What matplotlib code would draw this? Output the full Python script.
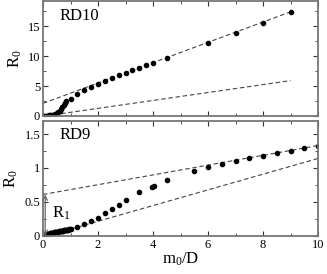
import matplotlib
matplotlib.use('Agg')
import matplotlib.pyplot as plt
from matplotlib.ticker import MultipleLocator

plt.rcParams['font.family'] = ['Liberation Serif', 'DejaVu Serif']
plt.rcParams['mathtext.fontset'] = 'custom'
plt.rcParams['mathtext.rm'] = 'Liberation Serif'
plt.rcParams['mathtext.it'] = 'Liberation Serif'

# RD10 (top panel)
m_rd10 = [0, 0.05, 0.1, 0.15, 0.2, 0.25, 0.3, 0.35, 0.4, 0.45, 0.5,
          0.55, 0.6, 0.65, 0.7, 0.75, 0.8, 0.85, 1.0, 1.25, 1.5, 1.75,
          2.0, 2.25, 2.5, 2.75, 3.0, 3.25, 3.5, 3.75, 4.0, 4.5, 6, 7, 8, 9]
r_rd10 = [0, 0.02, 0.04, 0.06, 0.08, 0.1, 0.13, 0.17, 0.22, 0.3, 0.42,
          0.65, 0.9, 1.2, 1.55, 1.9, 2.2, 2.45, 2.9, 3.65, 4.3, 4.85,
          5.4, 5.9, 6.3, 6.8, 7.2, 7.6, 8.0, 8.45, 8.9, 9.7, 12.2, 13.9, 15.6, 17.4]
fit_up_rd10_x = [0, 9]
fit_up_rd10_y = [2.1, 17.4]
fit_lo_rd10_x = [0.4, 9]
fit_lo_rd10_y = [0.2, 5.9]

# RD9 (bottom panel)
m_rd9 = [0, 0.025, 0.05, 0.075, 0.1, 0.125, 0.15, 0.175, 0.2, 0.225, 0.25,
         0.275, 0.3, 0.325, 0.35, 0.375, 0.4, 0.425, 0.45, 0.475, 0.5,
         0.525, 0.55, 0.575, 0.6, 0.625, 0.65, 0.675, 0.7, 0.725, 0.75,
         0.775, 0.8, 0.825, 0.85, 0.875, 0.9, 0.925, 0.95, 0.975, 1.0,
         1.25, 1.5, 1.75, 2.0, 2.25, 2.5, 2.75, 3.0, 3.5, 3.95, 4.05, 4.5,
         5.5, 6.0, 6.5, 7.0, 7.5, 8.0, 8.5, 9.0, 9.5, 10.0]
r_rd9 = [0, 0.006, 0.01, 0.014, 0.018, 0.021, 0.025, 0.028, 0.031, 0.034, 0.037,
         0.04, 0.042, 0.045, 0.047, 0.05, 0.052, 0.054, 0.056, 0.058, 0.06,
         0.062, 0.064, 0.066, 0.068, 0.07, 0.072, 0.074, 0.076, 0.078, 0.08,
         0.082, 0.084, 0.086, 0.088, 0.09, 0.092, 0.094, 0.096, 0.098, 0.1,
         0.13, 0.175, 0.225, 0.265, 0.33, 0.39, 0.455, 0.525, 0.64, 0.725, 0.735, 0.82,
         0.96, 1.02, 1.06, 1.10, 1.15, 1.18, 1.22, 1.255, 1.29, 1.33]
fit_up_rd9_x = [0, 10]
fit_up_rd9_y = [0.61, 1.33]
fit_lo_rd9_x = [1.0, 10]
fit_lo_rd9_y = [0.1, 1.14]
r1_value = 0.61

fig = plt.figure(figsize=(3.27, 2.74), dpi=100)
ax1 = fig.add_axes([0.1315, 0.577, 0.841, 0.419])
ax2 = fig.add_axes([0.1315, 0.139, 0.841, 0.419])

dash = dict(color='#444444', lw=0.8, ls=(0, (4, 2.5)))
mk = dict(ls='none', marker='o', ms=3.0, color='black', mec='black')

ax1.plot(fit_up_rd10_x, fit_up_rd10_y, **dash)
ax1.plot(fit_lo_rd10_x, fit_lo_rd10_y, **dash)
ax1.plot(m_rd10, r_rd10, **mk)
ax1.set_xlim(0, 10)
ax1.set_ylim(0, 19.2)
ax1.yaxis.set_major_locator(MultipleLocator(5))
ax1.yaxis.set_minor_locator(MultipleLocator(2.5))
ax1.xaxis.set_major_locator(MultipleLocator(2))
ax1.xaxis.set_minor_locator(MultipleLocator(1))
ax1.set_xticklabels([])
ax1.set_ylabel(r'R$_0$', fontsize=12, labelpad=3)
ax1.text(0.6, 16.0, 'RD10', fontsize=12)

ax2.plot(fit_up_rd9_x, fit_up_rd9_y, **dash)
ax2.plot(fit_lo_rd9_x, fit_lo_rd9_y, **dash)
ax2.plot(m_rd9, r_rd9, **mk)
ax2.annotate('', xy=(0.08, r1_value), xytext=(0.08, 0.0),
             arrowprops=dict(arrowstyle='<->', color='#666666', lw=0.9,
                             shrinkA=0, shrinkB=0, mutation_scale=8))
ax2.text(0.32, 0.27, r'R$_1$', fontsize=12)
ax2.set_xlim(0, 10)
ax2.set_ylim(0, 1.69)
ax2.yaxis.set_major_locator(MultipleLocator(0.5))
ax2.yaxis.set_minor_locator(MultipleLocator(0.25))
ax2.xaxis.set_major_locator(MultipleLocator(2))
ax2.xaxis.set_minor_locator(MultipleLocator(1))
ax2.set_yticks([0, 0.5, 1, 1.5])
ax2.set_yticklabels(['0', '0.5', '1', '1.5'])
ax2.set_ylabel(r'R$_0$', fontsize=12, labelpad=3)
ax2.set_xlabel(r'm$_0$/D', fontsize=12, labelpad=0)
ax2.text(0.6, 1.42, 'RD9', fontsize=12)

for ax in (ax1, ax2):
    for s in ax.spines.values():
        s.set_color('#777777')
        s.set_linewidth(1.3)
    ax.tick_params(which='both', direction='in', top=True, right=True,
                   labelsize=9, pad=2, color='#333333')
    ax.tick_params(which='major', length=3.5, width=0.8)
    ax.tick_params(which='minor', length=2, width=0.6)

fig.savefig('out.png', dpi=100)
